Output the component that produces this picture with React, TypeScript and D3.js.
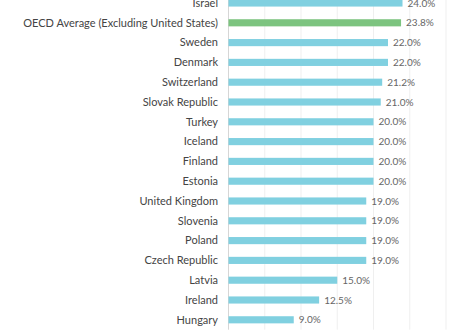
import React from "react";
import * as d3 from "d3";

const countries = [
  "Israel",
  "OECD Average (Excluding United States)",
  "Sweden",
  "Denmark",
  "Switzerland",
  "Slovak Republic",
  "Turkey",
  "Iceland",
  "Finland",
  "Estonia",
  "United Kingdom",
  "Slovenia",
  "Poland",
  "Czech Republic",
  "Latvia",
  "Ireland",
  "Hungary",
];
const rates = [24.0, 23.8, 22.0, 22.0, 21.2, 21.0, 20.0, 20.0, 20.0, 20.0, 19.0, 19.0, 19.0, 19.0, 15.0, 12.5, 9.0];
const highlight = "OECD Average (Excluding United States)";
const gridTicks = [0, 5, 10, 15, 20, 25, 30];

const W = 468;
const H = 335;

export default function App() {
  const step = 19.8;
  const y0 = 3 - step / 2;
  const y = d3
    .scaleBand<string>()
    .domain(countries)
    .range([y0, y0 + step * countries.length])
    .paddingInner(0.64)
    .paddingOuter(0.32);
  const x = d3.scaleLinear().domain([0, 30]).range([228.5, 446]);
  const [yTop, yBot] = y.range();

  return (
    <svg
      width={W}
      height={H}
      style={{ position: "absolute", left: 0, top: 0, background: "#fff" }}
      fontFamily="Lato, 'Open Sans', sans-serif"
    >
      {gridTicks.map((t) => (
        <line
          key={t}
          x1={x(t)}
          x2={x(t)}
          y1={yTop}
          y2={yBot}
          stroke={t === 0 ? "#d6d6d6" : "#efefef"}
          strokeWidth={1}
        />
      ))}
      {countries.map((c, i) => {
        const yy = y(c)!;
        const bw = y.bandwidth();
        const cy = yy + bw / 2;
        return (
          <g key={c}>
            <text
              x={218}
              y={cy}
              dy="0.35em"
              textAnchor="end"
              fontSize={11}
              fill="#444"
            >
              {c}
            </text>
            <rect
              x={x(0)}
              y={yy}
              width={x(rates[i]) - x(0)}
              height={bw}
              fill={c === highlight ? "#7cc47f" : "#80d0e0"}
            />
            <text
              x={x(rates[i]) + 5}
              y={cy}
              dy="0.35em"
              fontSize={10}
              fill="#666"
            >
              {rates[i].toFixed(1) + "%"}
            </text>
          </g>
        );
      })}
    </svg>
  );
}
